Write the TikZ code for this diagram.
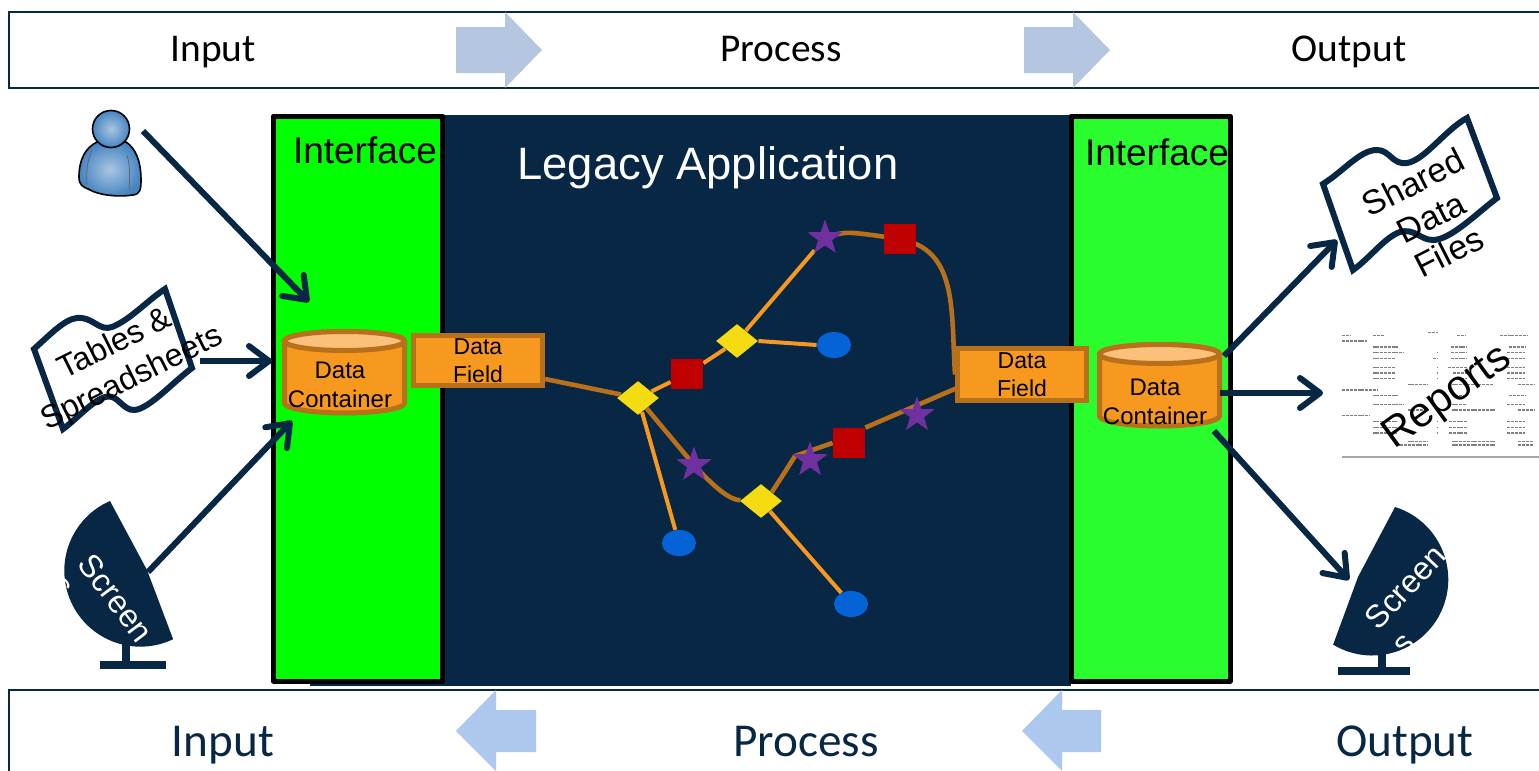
\documentclass[tikz,border=0pt]{standalone}
\usepackage{fontspec}
\setmainfont{Liberation Sans}
\newfontfamily\calfont{Carlito}
\usetikzlibrary{arrows.meta,shapes.geometric}
\definecolor{navy}{HTML}{072744}
\definecolor{orng}{HTML}{F7981F}
\definecolor{brwn}{HTML}{B9701A}
\definecolor{peach}{HTML}{FBC07A}
\definecolor{topar}{HTML}{B4C6E0}
\definecolor{botar}{HTML}{ADC8EF}
\definecolor{gree}{HTML}{00FF00}
\definecolor{greeb}{HTML}{2AFD2E}
\definecolor{redb}{HTML}{C00000}
\definecolor{purp}{HTML}{7030A0}
\definecolor{yel}{HTML}{F5DC12}
\definecolor{blu}{HTML}{0563D8}
\definecolor{pl}{HTML}{A9C6E2}
\definecolor{pd}{HTML}{4685C2}
\pgfdeclarelayer{bg}\pgfdeclarelayer{edges}
\pgfsetlayers{bg,edges,main}
\newcommand{\cylshape}[2]{%
 \begin{scope}[shift={(#1,#2)}]
 \path[cylbody] (-60,-31) -- (-60,31) arc[start angle=180,end angle=0,x radius=60,y radius=10] -- (60,-31) arc[start angle=0,end angle=-180,x radius=60,y radius=9.5] -- cycle;
 \path[cyltop] (0,-31) ellipse[x radius=60,y radius=9.5];
 \end{scope}}
\tikzset{
 x=0.5pt,y=-0.5pt,
 bar/.style={draw=navy,line width=1pt,fill=white},
 toplabel/.style={font=\calfont\fontsize{19.7}{23}\selectfont,text=black,inner sep=0,anchor=base},
 botlabel/.style={font=\calfont\fontsize{23.6}{28}\selectfont,text=navy,inner sep=0,anchor=base},
 panel/.style={draw=black,line width=2.5pt,line join=round},
 iface/.style={font=\fontsize{18.5}{22}\selectfont,inner sep=0},
 field/.style={draw=brwn,fill=orng,line width=2.5pt,minimum width=64.5pt,inner sep=0,align=center,font=\fontsize{11.5}{14.2}\selectfont},
 cylbody/.style={draw=brwn,fill=orng,line width=2.5pt},
 cyltop/.style={draw=brwn,fill=peach,line width=2.5pt},
 cyltext/.style={align=center,inner sep=0,font=\fontsize{12}{14.5}\selectfont},
 squ/.style={rectangle,fill=redb,minimum width=16pt,minimum height=15pt,inner sep=0},
 dia/.style={diamond,aspect=1.25,fill=yel,minimum width=21pt,minimum height=17pt,inner sep=0},
 sta/.style={star,star points=5,star point ratio=2.5,fill=purp,minimum size=18.5pt,inner sep=0},
 ell/.style={ellipse,fill=blu,minimum width=17pt,minimum height=13pt,inner sep=0},
 orline/.style={draw=orng,line width=2pt},
 brline/.style={draw=brwn,line width=2.3pt},
 arr/.style={draw=navy,line width=3pt,-{Straight Barb[length=10pt,width=15pt,round]}},
 flag/.style={draw=navy,line width=3pt,fill=white,miter limit=2},
 doctext/.style={align=center,inner sep=0,font=\fontsize{16}{19}\selectfont},
 scr/.style={fill=navy},
 scrtext/.style={text=white,inner sep=0,font=\fontsize{16}{18}\selectfont},
 person/.style={draw=black,line width=0.8pt,inner color=pl,outer color=pd},
 repdash/.style={draw=black!50,line width=0.65pt,dash pattern=on 1.5pt off 0.4pt},
}
\begin{document}
\begin{tikzpicture}
\useasboundingbox (0,0) rectangle (1539,771);
% bars
\path[bar] (9,12) -- (1545,12) -- (1545,88) -- (9,88) -- cycle;
\path[bar] (9,690) -- (1545,690) -- (1545,780) -- (9,780) -- cycle;
\fill[topar] (456,27) -- (505,27) -- (505,12) -- (542,50) -- (505,88) -- (505,73) -- (456,73) -- cycle;
\fill[topar] (1024,27) -- (1073,27) -- (1073,12) -- (1110,50) -- (1073,88) -- (1073,73) -- (1024,73) -- cycle;
\fill[botar] (536,710) -- (496,710) -- (496,690) -- (456,731) -- (496,771) -- (496,752) -- (536,752) -- cycle;
\fill[botar] (1101,710) -- (1062,710) -- (1062,690) -- (1022,731) -- (1062,771) -- (1062,752) -- (1101,752) -- cycle;
\node[toplabel] (tin) at (213,61.5) {Input};
\node[toplabel] (tpr) at (781,61.5) {Process};
\node[toplabel] (tou) at (1349,61.5) {Output};
\node[botlabel] (bin) at (223,756.5) {Input};
\node[botlabel] (bpr) at (806,756.5) {Process};
\node[botlabel] (bou) at (1405,756.5) {Output};
% application
\begin{pgfonlayer}{bg}
\fill[navy] (310,115) rectangle (1071,686);
\path[panel,fill=gree] (273.5,116) rectangle (442.5,681);
\path[panel,fill=greeb] (1071,116) rectangle (1230,681);
\end{pgfonlayer}
\node[iface] (if1) at (365,150) {Interface};
\node[iface] (if2) at (1157,152) {Interface};
\node[inner sep=0,text=white,font=\fontsize{22.7}{27}\selectfont] (legacy) at (708,168) {Legacy Application};
% cylinders and fields
\cylshape{344.5}{372}
\cylshape{1159.5}{385}
\node[cyltext] (dc1t) at (340,385) {Data\\Container};
\node[cyltext] (dc2t) at (1155,401.5) {Data\\Container};
\node[field,minimum height=25pt] (df1) at (478,360.5) {Data\\Field};
\node[field,minimum height=26pt] (df2) at (1022,374.5) {Data\\Field};
% graph nodes
\node[dia] (d1) at (638,398) {};
\node[dia] (d2) at (737,341) {};
\node[dia] (d3) at (761,501) {};
\node[squ] (r1) at (687,374) {};
\node[squ] (r2) at (900,239) {};
\node[squ] (r3) at (849,443) {};
\node[sta] (s1) at (825,238) {};
\node[sta] (s2) at (694,465) {};
\node[sta] (s3) at (810,460) {};
\node[sta] (s4) at (917,415) {};
\node[ell] (e1) at (834,345) {};
\node[ell] (e2) at (679,543) {};
\node[ell] (e3) at (851,604) {};
\coordinate (df1out) at (545,379);
\coordinate (df2in) at (957,388);
\coordinate (d3mid) at (795,456);
\begin{pgfonlayer}{edges}
\path[brline] (df1out) -- (d1);
\path[orline] (d1) -- (r1) -- (d2) -- (s1);
\path[orline] (d2.east) -- (e1.west);
\path[orline] (d1) -- (e2);
\path[orline] (d3) -- (e3);
\path[brline] (s1.center) .. controls (845,231) .. (r2.center);
\path[brline] (r2.center) .. controls (958,250) and (951,310) .. (df2.west);
\path[brline] (d1) -- (s2.center);
\path[brline] (s2.center) .. controls (715,488) and (730,500) .. (d3);
\path[brline] (d3) .. controls (772,492) and (785,472) .. (d3mid) -- (r3.west);
\path[brline] (r3.north east) -- (df2in);
\end{pgfonlayer}
% person
\path[person] (97,142) .. controls (85,148) and (79,160) .. (79,177) .. controls (79,185) and (83,187) .. (88,189) .. controls (100,196) and (120,197) .. (133,195) .. controls (140,194) and (141,190) .. (141,180) .. controls (141,160) and (135,148) .. (126,142) -- cycle;
\draw[black!60,line width=0.4pt] (92,150) .. controls (87,162) and (86,172) .. (87,185);
\draw[black!60,line width=0.4pt] (127,155) .. controls (130,165) and (130,175) .. (129,190);
\path[person] (111,129) circle[radius=18.5];
\coordinate (pout) at (143,131);
\coordinate (dc1a) at (309,302);
\path[arr] (pout) -- (dc1a);
% left flag
\path[flag] (34,349) .. controls (55,330) and (68,316) .. (82,318) .. controls (95,320) and (100,331) .. (112,327) .. controls (130,320) and (148,300) .. (165,289) -- (192,368) .. controls (172,383) and (150,408) .. (135,410) .. controls (122,411) and (118,393) .. (105,397) .. controls (92,401) and (78,418) .. (63,429) -- cycle;
\node[doctext,rotate=26.5] (tabs) at (124,362) {Tables \&\\Spreadsheets};
\coordinate (tout) at (200,361);
\coordinate (dc1b) at (272,361);
\path[arr] (tout) -- (dc1b);
% left screen
\path[scr] (110,501) arc[start angle=246.5,end angle=64.4,radius=76] -- (147,570) -- cycle;
\fill[navy] (122,640) rectangle (130,665);
\fill[navy] (100,661) rectangle (166,669);
\node[scrtext,rotate=-53] (sc1) at (116,598) {Screen};
\node[scrtext,rotate=-53] (sc1b) at (61,587) {s};
\coordinate (sout) at (148,572);
\coordinate (dc1c) at (292,421);
\path[arr] (sout) -- (dc1c);
% right flag
\path[flag] (1323,184) .. controls (1345,170) and (1360,150) .. (1377,150) .. controls (1390,150) and (1392,165) .. (1407,163) .. controls (1425,160) and (1445,130) .. (1467,118) -- (1497,198) .. controls (1475,215) and (1450,240) .. (1433,240) .. controls (1420,240) and (1415,228) .. (1400,232) .. controls (1385,237) and (1370,258) .. (1353,270) -- cycle;
\node[doctext,rotate=27,font=\fontsize{17}{19.5}\selectfont] (sdf) at (1431,217) {Shared\\Data\\Files};
\coordinate (o1s) at (1224,356);
\coordinate (o1t) at (1337,240);
\path[arr] (o1s) -- (o1t);
% report image
\foreach \zy/\a/\b in {697/1135/1165,707/877/900,707/970/1003,707/1222/1248,707/1350/1435,723/877/950,
 741/968/1045,741/1203/1250,741/1378/1425,758/968/1060,758/1160/1165,758/1203/1250,758/1372/1425,
 775/968/1035,775/1150/1165,775/1203/1250,775/1372/1425,802/968/1035,802/1160/1165,802/1195/1250,802/1372/1425,
 819/968/1035,819/1160/1165,819/1210/1250,819/1372/1425,836/968/1035,836/1160/1165,836/1210/1250,836/1372/1425,
 853/1073/1135,853/1205/1330,853/1405/1455,870/877/985,887/968/1045,887/1205/1250,887/1378/1425,
 913/968/1060,913/1205/1250,913/1372/1425,930/1075/1135,930/1205/1335,930/1405/1455,947/877/960,
 965/968/1040,965/1160/1165,965/1197/1250,965/1372/1425,982/968/1040,982/1160/1165,982/1197/1250,982/1372/1425,
 999/968/1040,999/1160/1165,999/1197/1250,999/1372/1425,1025/1073/1135,1025/1205/1335,1025/1405/1450,
 1035/1040/1135,1035/1205/1335,1035/1405/1450}
 {\path[repdash] ({1050+\a/3},{100+\zy/3}) -- ({1050+\b/3},{100+\zy/3});}
\draw[black!35,line width=0.6pt] (1342,457) -- (1539,457);
\node[inner sep=0,rotate=36,font=\fontsize{21}{26}\selectfont] (rep) at (1448,398) {Reports};
\coordinate (o2s) at (1220,393);
\coordinate (o2t) at (1323,393);
\path[arr] (o2s) -- (o2t);
% right screen
\path[scr] (1395,507) arc[start angle=-72.6,end angle=121,radius=76] -- (1358,577) -- cycle;
\fill[navy] (1378,645) rectangle (1386,670);
\fill[navy] (1338,667) rectangle (1410,675);
\node[scrtext,rotate=47] (sc2) at (1405,587) {Screen};
\node[scrtext,rotate=47] (sc2b) at (1405,645) {s};
\coordinate (o3s) at (1214,431);
\coordinate (o3t) at (1349,580);
\path[arr] (o3s) -- (o3t);
\end{tikzpicture}
\end{document}
